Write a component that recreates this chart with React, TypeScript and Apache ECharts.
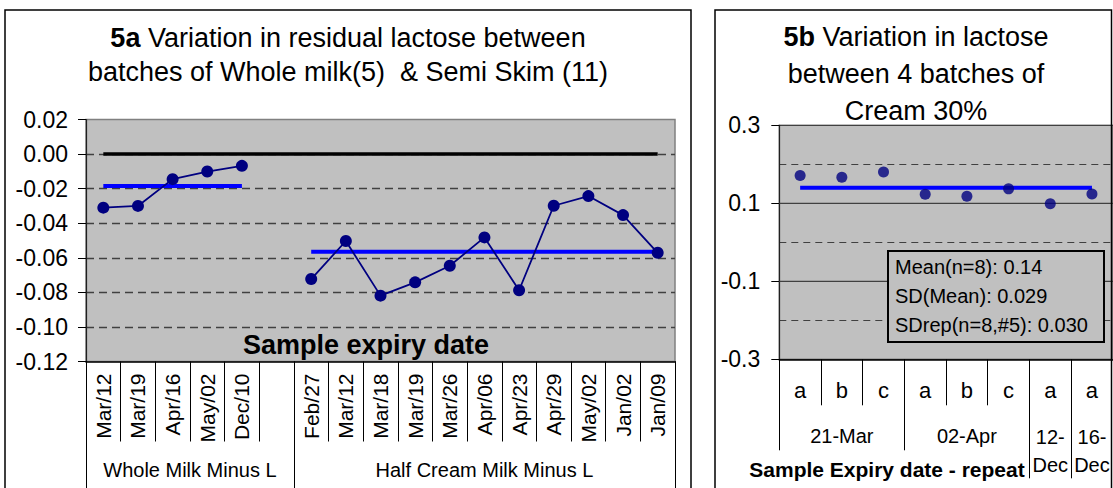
import React, { useEffect, useRef } from "react";
import * as echarts from "echarts";

// ---- data ----
const wholeDates = ["Mar/12", "Mar/19", "Apr/16", "May/02", "Dec/10"];
const halfDates = ["Feb/27", "Mar/12", "Mar/18", "Mar/19", "Mar/26", "Apr/06", "Apr/23", "Apr/29", "May/02", "Jan/02", "Jan/09"];
const wholeValues = [-0.031, -0.030, -0.0145, -0.0101, -0.0068];
const halfValues = [-0.0723, -0.0503, -0.0819, -0.0742, -0.0646, -0.0482, -0.0788, -0.0299, -0.0243, -0.0353, -0.0571];
const wholeMean = -0.0184;
const halfMean = -0.0565;
const leftGroups = ["Whole Milk Minus L", "Half Cream Milk Minus L"];
const leftYTicks = { min: -0.12, max: 0.02, interval: 0.02 };

const creamReps = ["a", "b", "c", "a", "b", "c", "a", "a"];
const creamValues = [0.171, 0.167, 0.18, 0.123, 0.118, 0.137, 0.099, 0.124];
const creamMean = 0.14;
const creamDates = ["21-Mar", "02-Apr", "12-\nDec", "16-\nDec"];
const creamDateSizes = [3, 3, 1, 1];
const rightYTicks = { min: -0.3, max: 0.3, interval: 0.2 };
const rightSolidGrid = [0.1, -0.1];
const statsLines = ["Mean(n=8): 0.14", "SD(Mean): 0.029", "SDrep(n=8,#5): 0.030"];

const FONT = "'Liberation Sans', Arial, Helvetica, sans-serif";
const NAVY = "#000080";
const BLUE = "#0000ff";
const PLOT_BG = "#c0c0c0";
const GRID_DARK = "#404040";

export default function App() {
  const ref = useRef<HTMLDivElement>(null);

  useEffect(() => {
    if (!ref.current) return;
    const chart = echarts.init(ref.current, undefined, { renderer: "svg" });

    const leftCats = [...wholeDates, "", ...halfDates];
    const leftData = [...wholeValues, null, ...halfValues];
    const nWhole = wholeDates.length;
    const leftBounds = [0, nWhole + 1, leftCats.length];
    const leftMids = [leftBounds[0] + (leftBounds[1] - leftBounds[0]) / 2, leftBounds[1] + (leftBounds[2] - leftBounds[1]) / 2];
    const wholeMeanLine = leftCats.map((_, i) => (i < nWhole ? wholeMean : null));
    const halfMeanLine = leftCats.map((_, i) => (i > nWhole ? halfMean : null));
    const zeroLine = leftCats.map(() => 0);

    const rightBounds: number[] = [0];
    creamDateSizes.forEach((s) => rightBounds.push(rightBounds[rightBounds.length - 1] + s));
    const rightMids = creamDateSizes.map((s, i) => rightBounds[i] + s / 2);
    const creamMeanLine = creamReps.map(() => creamMean);
    const gridLineA = creamReps.map(() => rightSolidGrid[0]);
    const gridLineB = creamReps.map(() => rightSolidGrid[1]);

    const labelFor = (mids: number[], names: string[]) => (v: number) => {
      const i = mids.findIndex((m) => Math.abs(m - v) < 1e-6);
      return i >= 0 ? names[i] : "";
    };

    const option: any = {
      animation: false,
      title: [
        {
          text: "{b|5a} {n|Variation in residual lactose between}\n{n|batches of Whole milk(5)  & Semi Skim (11)}",
          left: 348,
          top: 21,
          padding: 0,
          textAlign: "center",
          textStyle: {
            fontFamily: FONT, fontSize: 27, fontWeight: "normal", color: "#000", lineHeight: 34,
            rich: {
              b: { fontFamily: FONT, fontSize: 27, fontWeight: "bold", color: "#000", lineHeight: 34 },
              n: { fontFamily: FONT, fontSize: 27, fontWeight: "normal", color: "#000", lineHeight: 34 },
            },
          },
        },
        {
          text: "{b|5b} {n|Variation in lactose}\n{n|between 4 batches of}\n{n|Cream 30%}",
          left: 916,
          top: 18,
          padding: 0,
          textAlign: "center",
          textStyle: {
            fontFamily: FONT, fontSize: 27, fontWeight: "normal", color: "#000", lineHeight: 37,
            rich: {
              b: { fontFamily: FONT, fontSize: 27, fontWeight: "bold", color: "#000", lineHeight: 37 },
              n: { fontFamily: FONT, fontSize: 27, fontWeight: "normal", color: "#000", lineHeight: 37 },
            },
          },
        },
      ],
      grid: [
        {
          left: 86, top: 119.5, width: 589, height: 242,
          containLabel: false, outerBoundsMode: "none",
          show: true, backgroundColor: PLOT_BG, borderColor: "#808080", borderWidth: 1.5,
        },
        {
          left: 779.3, top: 125.3, width: 333.5, height: 234,
          containLabel: false, outerBoundsMode: "none",
          show: true, backgroundColor: PLOT_BG, borderColor: "#808080", borderWidth: 1.5,
        },
      ],
      xAxis: [
        {
          type: "category", gridIndex: 0, data: leftCats, boundaryGap: true, position: "bottom",
          axisLine: { show: true, onZero: false, lineStyle: { color: "#000", width: 1.5 } },
          axisTick: { show: true, interval: 0, length: 80, lineStyle: { color: "#000", width: 1 } },
          axisLabel: { show: true, interval: 0, rotate: 90, margin: 12, fontFamily: FONT, fontSize: 21, color: "#000" },
          splitLine: { show: false },
        },
        {
          type: "value", gridIndex: 0, min: 0, max: leftCats.length, position: "bottom", offset: 0,
          axisLine: { show: false, onZero: false },
          axisTick: { show: true, customValues: leftBounds, length: 127, lineStyle: { color: "#000", width: 1 } },
          axisLabel: {
            show: true, customValues: leftMids, margin: 98, fontFamily: FONT, fontSize: 20, color: "#000",
            formatter: labelFor(leftMids, leftGroups),
          },
          splitLine: { show: false },
        },
        {
          type: "category", gridIndex: 1, data: creamReps, boundaryGap: true, position: "bottom",
          axisLine: { show: true, onZero: false, lineStyle: { color: "#000", width: 1.5 } },
          axisTick: { show: true, interval: 0, length: 46, lineStyle: { color: "#000", width: 1 } },
          axisLabel: { show: true, interval: 0, margin: 20, fontFamily: FONT, fontSize: 22, color: "#000" },
          splitLine: { show: false },
        },
        {
          type: "value", gridIndex: 1, min: 0, max: creamReps.length, position: "bottom", offset: 0,
          axisLine: { show: false, onZero: false },
          axisTick: { show: true, customValues: rightBounds.slice(0, 2), length: 91, lineStyle: { color: "#000", width: 1 } },
          axisLabel: {
            show: true, customValues: rightMids.slice(0, 2), margin: 67, fontFamily: FONT, fontSize: 20, color: "#000",
            formatter: labelFor(rightMids, creamDates),
          },
          splitLine: { show: false },
        },
        {
          type: "value", gridIndex: 1, min: 0, max: creamReps.length, position: "bottom", offset: 0,
          axisLine: { show: false, onZero: false },
          axisTick: { show: true, customValues: rightBounds.slice(2), length: 119, lineStyle: { color: "#000", width: 1 } },
          axisLabel: {
            show: true, customValues: rightMids.slice(2), margin: 64, fontFamily: FONT, fontSize: 20, color: "#000",
            lineHeight: 28, formatter: labelFor(rightMids, creamDates),
          },
          splitLine: { show: false },
        },
        {
          // helper value axis spanning the full right plot width, used for the solid grid lines
          type: "value", gridIndex: 1, min: 0, max: 1, show: false,
        },
      ],
      yAxis: [
        {
          type: "value", gridIndex: 0, min: leftYTicks.min, max: leftYTicks.max, interval: leftYTicks.interval,
          axisLine: { show: true, onZero: false, lineStyle: { color: "#202020", width: 1.2 } },
          axisTick: { show: true, inside: false, length: 8, lineStyle: { color: "#000", width: 1 } },
          axisLabel: {
            margin: 18, fontFamily: FONT, fontSize: 23, color: "#000",
            formatter: (v: number) => (Math.abs(v) < 1e-9 ? "0.00" : v.toFixed(2)),
          },
          splitLine: { show: true, showMaxLine: false, showMinLine: false, lineStyle: { color: GRID_DARK, width: 1.4, type: [8, 5] } },
        },
        {
          type: "value", gridIndex: 1, min: rightYTicks.min, max: rightYTicks.max, interval: rightYTicks.interval,
          axisLine: { show: true, onZero: false, lineStyle: { color: "#202020", width: 1.2 } },
          axisTick: { show: true, inside: false, length: 8, lineStyle: { color: "#000", width: 1 } },
          axisLabel: {
            margin: 19, fontFamily: FONT, fontSize: 23, color: "#000",
            formatter: (v: number) => v.toFixed(1),
          },
          splitLine: { show: true, lineStyle: { color: GRID_DARK, width: 1.2, type: "solid" } },
          minorTick: { show: false, splitNumber: 2 },
          minorSplitLine: { show: true, lineStyle: { color: GRID_DARK, width: 1.2, type: [7, 5] } },
        },
      ],
      series: [
        {
          type: "line", xAxisIndex: 0, yAxisIndex: 0, data: zeroLine, symbol: "none", silent: true,
          lineStyle: { color: "#000", width: 3.5 }, z: 2,
        },
        {
          type: "line", xAxisIndex: 0, yAxisIndex: 0, data: wholeMeanLine, symbol: "none", silent: true,
          lineStyle: { color: BLUE, width: 4 }, z: 3,
        },
        {
          type: "line", xAxisIndex: 0, yAxisIndex: 0, data: halfMeanLine, symbol: "none", silent: true,
          lineStyle: { color: BLUE, width: 4 }, z: 3,
        },
        {
          type: "line", xAxisIndex: 0, yAxisIndex: 0, data: leftData, connectNulls: false,
          symbol: "circle", symbolSize: 12, itemStyle: { color: NAVY }, lineStyle: { color: NAVY, width: 1.8 }, z: 4,
        },
        // solid horizontal grid lines of the right plot (0.1 and -0.1), drawn across the full width
        ...[gridLineA, gridLineB].map((vals) => ({
          type: "line", xAxisIndex: 5, yAxisIndex: 1, silent: true, symbol: "none", z: 1,
          data: [[0, vals[0]], [1, vals[0]]],
          lineStyle: { color: GRID_DARK, width: 1.3, type: "solid" },
        })),
        {
          type: "line", xAxisIndex: 2, yAxisIndex: 1, data: creamMeanLine, symbol: "none", silent: true,
          lineStyle: { color: BLUE, width: 4 }, z: 3,
        },
        {
          type: "scatter", xAxisIndex: 2, yAxisIndex: 1, data: creamValues,
          symbol: "circle", symbolSize: 11, itemStyle: { color: NAVY }, z: 4,
        },
      ],
      graphic: [
        { type: "rect", shape: { x: 5, y: 10, width: 686, height: 500 }, style: { fill: "none", stroke: "#000", lineWidth: 1.5 }, z: 100, silent: true },
        { type: "rect", shape: { x: 715, y: 10, width: 396.5, height: 500 }, style: { fill: "none", stroke: "#000", lineWidth: 1.5 }, z: 100, silent: true },
        {
          type: "text", x: 366, y: 345, z: 100, silent: true,
          style: { text: "Sample expiry date", font: `bold 27px ${FONT}`, fill: "#000", textAlign: "center", textVerticalAlign: "middle" },
        },
        {
          type: "text", x: 887, y: 469, z: 100, silent: true,
          style: { text: "Sample Expiry date - repeat", font: `bold 21px ${FONT}`, fill: "#000", textAlign: "center", textVerticalAlign: "middle" },
        },
        { type: "rect", shape: { x: 888, y: 251, width: 216, height: 91 }, style: { fill: PLOT_BG, stroke: "#000", lineWidth: 2 }, z: 100, silent: true },
        ...statsLines.map((t, i) => ({
          type: "text", x: 895, y: 267 + i * 28.8, z: 101, silent: true,
          style: { text: t, font: `20px ${FONT}`, fill: "#000", textAlign: "left", textVerticalAlign: "middle" },
        })),
      ],
    };

    chart.setOption(option);
    return () => chart.dispose();
  }, []);

  return (
    <div
      ref={ref}
      style={{ position: "fixed", left: 0, top: 0, width: 1113, height: 488, background: "#fff" }}
    />
  );
}
